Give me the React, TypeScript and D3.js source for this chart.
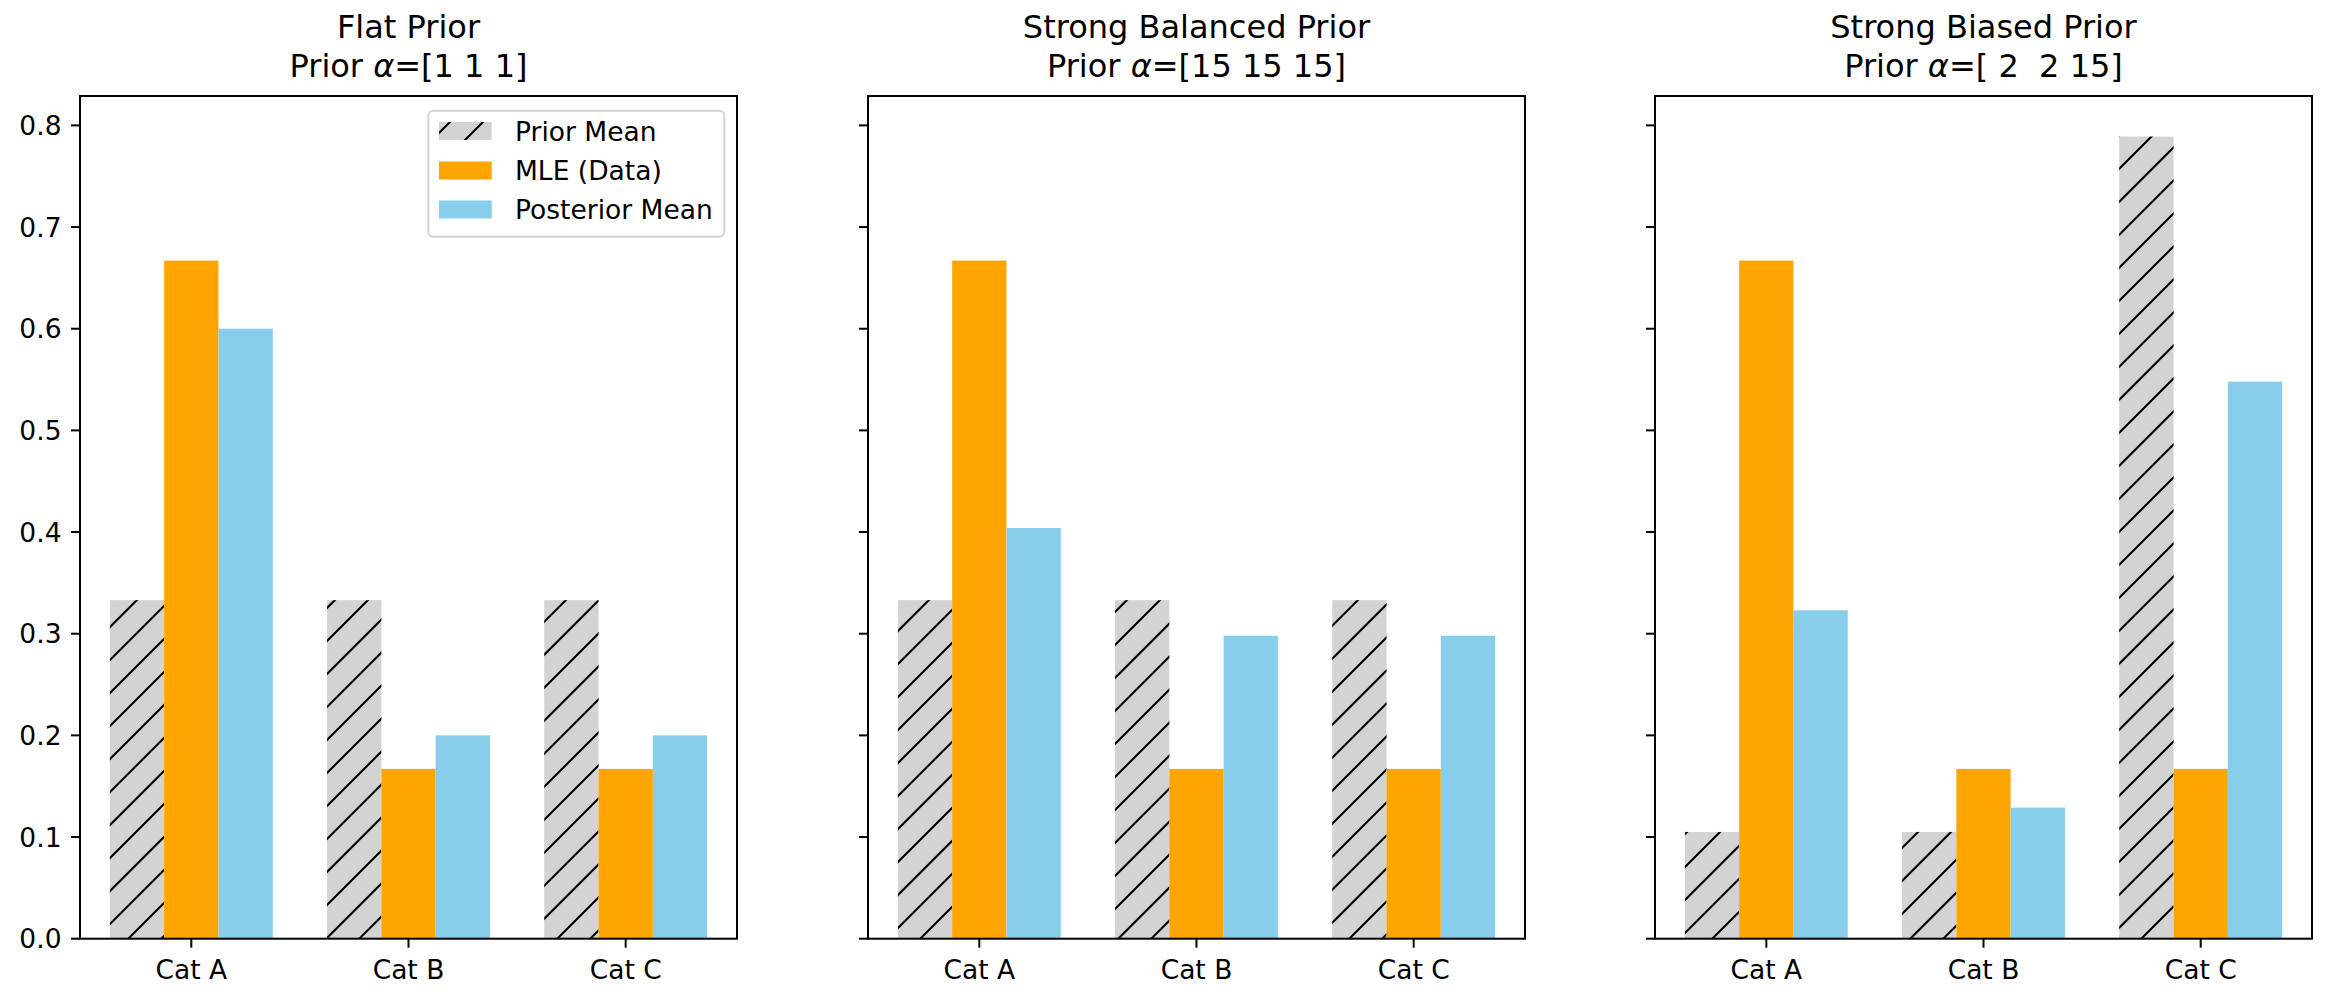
import React from 'react'
import * as d3 from 'd3'

// values
const categories = ['Cat A', 'Cat B', 'Cat C']
const panelTitles = ['Flat Prior', 'Strong Balanced Prior', 'Strong Biased Prior']
const alphaLabels = ['[1 1 1]', '[15 15 15]', '[ 2  2 15]']
const priorMean = [
    [0.333, 0.333, 0.333],
    [0.333, 0.333, 0.333],
    [0.105, 0.105, 0.789],
]
const mle = [
    [0.667, 0.167, 0.167],
    [0.667, 0.167, 0.167],
    [0.667, 0.167, 0.167],
]
const posteriorMean = [
    [0.6, 0.2, 0.2],
    [0.404, 0.298, 0.298],
    [0.323, 0.129, 0.548],
]
const yTicks = [0, 0.1, 0.2, 0.3, 0.4, 0.5, 0.6, 0.7, 0.8]
const seriesNames = ['Prior Mean', 'MLE (Data)', 'Posterior Mean']

const W = 2331
const H = 1003
const panelLeft = [80, 868, 1655]
const panelW = 657
const top = 96
const bottom = 938.7
const barW = 0.25
const font = 'DejaVu Sans, Liberation Sans, sans-serif'
const fills = ['#d3d3d3', '#ffa500', '#87ceeb']
const tickFs = 26.5
const titleFs = 32

function Panel({ idx }: { idx: number }) {
    const left = panelLeft[idx]
    const x = d3.scaleLinear().domain([-0.5125, 2.5125]).range([left, left + panelW])
    const y = d3.scaleLinear().domain([0, 0.8289]).range([bottom, top])
    const series = [priorMean[idx], mle[idx], posteriorMean[idx]]
    const bw = x(barW) - x(0)
    const cx = left + panelW / 2

    return (
        <g>
            {series.map((vals, s) =>
                vals.map((v, i) => {
                    const x0 = x(i + (s - 1) * barW - barW / 2)
                    return (
                        <g key={s + '-' + i}>
                            <rect x={x0} y={y(v)} width={bw} height={y(0) - y(v)} fill={fills[s]} />
                            {s === 0 && (
                                <rect x={x0} y={y(v)} width={bw} height={y(0) - y(v)} fill="url(#hatch)" />
                            )}
                        </g>
                    )
                })
            )}
            {/* spines */}
            <rect x={left} y={top} width={panelW} height={bottom - top} fill="none" stroke="#000" strokeWidth={2} />
            {/* y ticks */}
            {yTicks.map(t => (
                <g key={t}>
                    <line x1={left - 9} x2={left} y1={y(t)} y2={y(t)} stroke="#000" strokeWidth={2} />
                    {idx === 0 && (
                        <text x={left - 18.5} y={y(t)} dy="0.36em" textAnchor="end" fontSize={tickFs} fontFamily={font}>
                            {t.toFixed(1)}
                        </text>
                    )}
                </g>
            ))}
            {/* x ticks */}
            {categories.map((c, i) => (
                <g key={c}>
                    <line x1={x(i)} x2={x(i)} y1={bottom} y2={bottom + 9} stroke="#000" strokeWidth={2} />
                    <text x={x(i)} y={979} textAnchor="middle" fontSize={tickFs} fontFamily={font}>{c}</text>
                </g>
            ))}
            {/* title */}
            <text x={cx} y={38} textAnchor="middle" fontSize={titleFs} fontFamily={font}>{panelTitles[idx]}</text>
            <text x={cx} y={77} textAnchor="middle" fontSize={titleFs} fontFamily={font} style={{ whiteSpace: 'pre' }}>
                {'Prior '}<tspan fontStyle="italic">α</tspan>{'=' + alphaLabels[idx]}
            </text>
            {idx === 0 && <Legend />}
        </g>
    )
}

function Legend() {
    const rows = [131, 170.5, 209.5]
    return (
        <g>
            <rect x={428.3} y={110.7} width={296} height={126} rx={5} fill="#fff" fillOpacity={0.8}
                stroke="#d4d4d4" strokeWidth={2} />
            {seriesNames.map((n, i) => (
                <g key={n}>
                    <rect x={439} y={rows[i] - 9} width={52.7} height={18} fill={fills[i]} />
                    {i === 0 && <rect x={439} y={rows[i] - 9} width={52.7} height={18} fill="url(#hatch)" />}
                    <text x={515} y={rows[i]} dy="0.36em" fontSize={tickFs} fontFamily={font}>{n}</text>
                </g>
            ))}
        </g>
    )
}

export default function App() {
    return (
        <svg width={W} height={H} style={{ position: 'absolute', left: 0, top: 0, background: '#fff' }}>
            <defs>
                <pattern id="hatch" patternUnits="userSpaceOnUse" width={33} height={33} x={11} y={0}>
                    <path d="M0,33 L33,0 M-8,8 L8,-8 M25,41 L41,25" stroke="#000" strokeWidth={2.1} />
                </pattern>
            </defs>
            <rect width={W} height={H} fill="#fff" />
            {[0, 1, 2].map(i => <Panel key={i} idx={i} />)}
        </svg>
    )
}
